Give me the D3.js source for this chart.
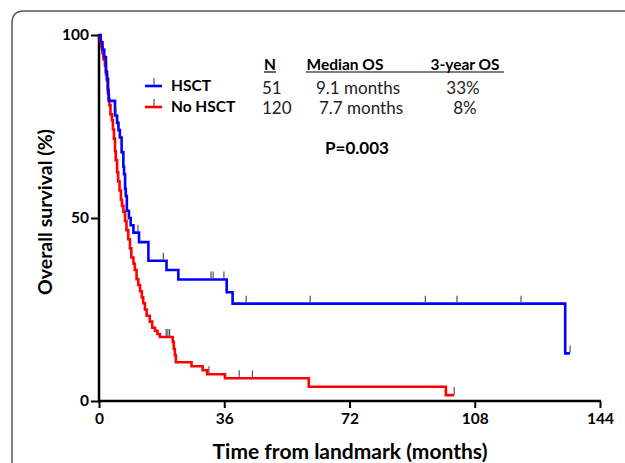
<!DOCTYPE html>
<html>
<head>
<meta charset="utf-8">
<script src="https://cdn.jsdelivr.net/npm/d3@7"></script>
<style>
  body { margin: 0; background: #fff; }
  svg { display: block; font-family: Lato, 'Open Sans', sans-serif; }
</style>
</head>
<body>
<svg id="chart" width="625" height="463"></svg>
<script>
// chart values
const xTicks = [0, 36, 72, 108, 144];
const xMinorTicks = [12, 24, 48, 60, 84, 96, 120, 132];
const yTicks = [0, 50, 100];
const yMinorTicks = [25, 75];
const groups = ['HSCT', 'No HSCT'];
const groupColors = ['#0000ff', '#ff0000'];

// [time (months), survival (%)] after each drop
const hsctSteps = [
    [0, 100], [0.5, 98], [1.0, 96], [1.5, 94], [2.0, 90], [2.3, 88], [2.6, 84],
    [2.8, 82], [4.6, 78], [5.2, 76], [5.6, 74], [6.0, 72], [6.5, 68], [7.0, 64],
    [7.2, 62], [7.5, 58], [7.7, 56], [8.0, 52], [8.6, 50], [9.1, 48], [9.9, 46],
    [11.5, 43.4], [14.2, 38.3], [19.4, 35.8], [22.8, 33.2], [36.7, 29.7],
    [38.4, 26.6], [134, 13.0]
];
const hsctEnd = 135.4;
const hsctCensor = [4.9, 11.2, 18.5, 32.2, 32.8, 35.9, 42.3, 60.7, 93.8, 102.9, 121.3, 135.4];

const noHsctSteps = [
    [0, 100], [0.3, 98.3], [0.6, 96.7], [1.0, 95], [1.3, 93.3], [1.7, 91.7],
    [2.0, 89.2], [2.3, 87.5], [2.5, 85], [2.8, 82.5], [3.0, 80.8], [3.3, 78.3],
    [3.7, 76.7], [4.0, 74.2], [4.3, 71.7], [4.6, 68.3], [4.8, 65.8], [5.2, 62.5],
    [5.5, 60], [5.9, 57.5], [6.3, 55], [6.6, 53.3], [7.0, 51.7], [7.5, 49.2],
    [7.9, 46.7], [8.4, 44.2], [8.9, 41.7], [9.3, 39.2], [9.9, 37.5], [10.3, 35.8],
    [10.8, 33.3], [11.3, 31.7], [11.8, 30], [12.3, 28.3], [12.7, 26.7], [13.2, 25],
    [13.7, 23.3], [14.6, 21.7], [15.3, 20], [16.1, 19.2], [16.8, 18.3], [17.5, 17.5],
    [21.2, 16.2], [21.5, 14.2], [21.8, 12.5], [22.1, 10.6], [26.6, 9.5],
    [29.8, 8.4], [31.1, 7.3], [36.2, 6.2], [60.3, 3.9], [99.7, 1.6]
];
const noHsctEnd = 102.1;
const noHsctCensor = [19.3, 19.8, 20.3, 31.6, 40.3, 44.1, 102.1];

const tableHeaders = ['N', 'Median OS', '3-year OS'];
const tableN = ['51', '120'];
const tableMedian = ['9.1 months', '7.7 months'];
const tableThreeYear = ['33%', '8%'];
const pValue = 'P=0.003';

const svg = d3.select('#chart');

// figure frame (cropped on right and bottom)
svg.append('path')
    .attr('d', 'M12,470 L12,23 Q12,11 24,11 L640,11')
    .attr('fill', 'none')
    .attr('stroke', '#555')
    .attr('stroke-width', 1.5);

const x = d3.scaleLinear().domain([0, 144]).range([99, 600]);
const y = d3.scaleLinear().domain([0, 100]).range([401, 35]);

// axes
let xAxis = svg.append('g')
    .attr('transform', 'translate(0,' + y(0) + ')');
xAxis.call(d3.axisBottom(x).tickValues(xMinorTicks).tickSize(4).tickFormat(''));
xAxis.call(d3.axisBottom(x).tickValues(xTicks).tickSize(7).tickPadding(5));
xAxis.selectAll('.domain').remove();
xAxis.append('line')
    .attr('x1', x(0) - 1).attr('x2', x(144) + 1)
    .attr('stroke', '#000').attr('stroke-width', 2.5);
xAxis.selectAll('.tick line').attr('stroke', '#000').attr('stroke-width', 2);
xAxis.selectAll('.tick text')
    .attr('fill', '#000')
    .style('font-size', '15.5px')
    .style('font-weight', 'bold')
    .style('font-family', 'Lato, sans-serif');

let yAxis = svg.append('g')
    .attr('transform', 'translate(' + x(0) + ',0)');
yAxis.call(d3.axisLeft(y).tickValues(yMinorTicks).tickSize(4).tickFormat(''));
yAxis.call(d3.axisLeft(y).tickValues(yTicks).tickSize(8).tickPadding(2));
yAxis.selectAll('.domain').remove();
yAxis.append('line')
    .attr('y1', y(0) + 1).attr('y2', y(100) - 1)
    .attr('stroke', '#000').attr('stroke-width', 2.5);
yAxis.selectAll('.tick line').attr('stroke', '#000').attr('stroke-width', 2);
yAxis.selectAll('.tick text')
    .attr('fill', '#000')
    .style('font-size', '15.5px')
    .style('font-weight', 'bold')
    .style('font-family', 'Lato, sans-serif');

// axis titles
svg.append('text')
    .attr('x', 350)
    .attr('y', 459)
    .attr('text-anchor', 'middle')
    .style('font-size', '21px')
    .style('font-weight', 'bold')
    .text('Time from landmark (months)');

svg.append('text')
    .attr('transform', 'translate(52,212) rotate(-90)')
    .attr('text-anchor', 'middle')
    .style('font-size', '19.5px')
    .style('font-weight', 'bold')
    .text('Overall survival (%)');

// survival curves
const line = d3.line()
    .x(function(d) { return x(d[0]); })
    .y(function(d) { return y(d[1]); })
    .curve(d3.curveStepAfter);

const curves = [
    { steps: noHsctSteps, end: noHsctEnd, censor: noHsctCensor, color: groupColors[1] },
    { steps: hsctSteps, end: hsctEnd, censor: hsctCensor, color: groupColors[0] }
];

const bisect = d3.bisector(function(d) { return d[0]; }).right;
const survAt = function(steps, t) {
    return steps[Math.max(0, bisect(steps, t) - 1)][1];
};

curves.forEach(function(c) {
    let pts = c.steps.concat([[c.end, c.steps[c.steps.length - 1][1]]]);
    svg.append('path')
        .attr('d', line(pts))
        .attr('fill', 'none')
        .attr('stroke', c.color)
        .attr('stroke-width', 2.6);
});

curves.forEach(function(c) {
    svg.append('g').selectAll('line')
        .data(c.censor)
        .enter().append('line')
        .attr('x1', function(d) { return x(d); })
        .attr('x2', function(d) { return x(d); })
        .attr('y1', function(d) { return y(survAt(c.steps, d)) - 1; })
        .attr('y2', function(d) { return y(survAt(c.steps, d)) - 8; })
        .attr('stroke', '#555')
        .attr('stroke-width', 1.2);
});

// legend
const legend = svg.append('g')
    .selectAll('g')
    .data(groups)
    .enter().append('g')
    .attr('transform', function(d, i) {
        return 'translate(145,' + (86 + i * 21) + ')';
    });

legend.append('line')
    .attr('x1', 0).attr('x2', 17)
    .attr('stroke', function(d, i) { return groupColors[i]; })
    .attr('stroke-width', 2.6);
legend.append('line')
    .attr('x1', 9).attr('x2', 9)
    .attr('y1', -1).attr('y2', -8)
    .attr('stroke', '#555')
    .attr('stroke-width', 1.2);
legend.append('text')
    .attr('x', 26)
    .attr('dy', '.35em')
    .style('font-size', '15.5px')
    .style('font-weight', 'bold')
    .text(function(d) { return d; });

// summary table
const headerX = [270, 345, 465];
svg.append('g').selectAll('text')
    .data(tableHeaders)
    .enter().append('text')
    .attr('x', function(d, i) { return headerX[i]; })
    .attr('y', 70)
    .attr('text-anchor', 'middle')
    .style('font-size', '15.5px')
    .style('font-weight', 'bold')
    .text(function(d) { return d; });

svg.append('line')
    .attr('x1', 264).attr('x2', 276)
    .attr('y1', 72).attr('y2', 72)
    .attr('stroke', '#000').attr('stroke-width', 1.2);
svg.append('line')
    .attr('x1', 306).attr('x2', 504)
    .attr('y1', 72).attr('y2', 72)
    .attr('stroke', '#000').attr('stroke-width', 1.2);

const rowY = [94, 114];
const cols = [
    { vals: tableN, x: 262, anchor: 'start' },
    { vals: tableMedian, x: [358, 361], anchor: 'middle' },
    { vals: tableThreeYear, x: [463, 465], anchor: 'middle' }
];
cols.forEach(function(c) {
    svg.append('g').selectAll('text')
        .data(c.vals)
        .enter().append('text')
        .attr('x', function(d, i) { return Array.isArray(c.x) ? c.x[i] : c.x; })
        .attr('y', function(d, i) { return rowY[i]; })
        .attr('text-anchor', c.anchor)
        .style('font-size', '17px')
        .style('fill', '#222')
        .text(function(d) { return d; });
});

svg.append('text')
    .attr('x', 357)
    .attr('y', 154)
    .attr('text-anchor', 'middle')
    .style('font-size', '17px')
    .style('font-weight', 'bold')
    .text(pValue);
</script>
</body>
</html>
